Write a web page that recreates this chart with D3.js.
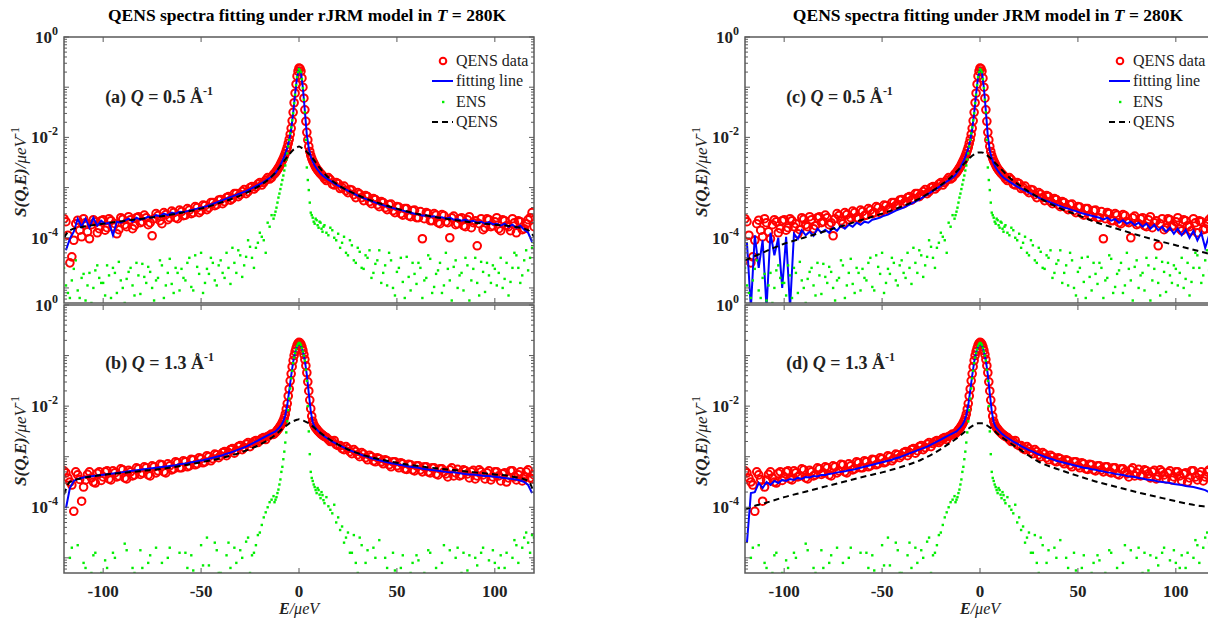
<!DOCTYPE html>
<html>
<head>
<meta charset="utf-8">
<script src="https://cdn.jsdelivr.net/npm/d3@7"></script>
<style>
  body { margin: 0; background: #fff; }
  text { font-family: "Liberation Serif", "Times New Roman", serif; }
</style>
</head>
<body>
<div id="chart"></div>
<script>
// all S(Q,E) values below are log10 of S in ueV^-1

// energy bins (ueV), first set: data, fit and ENS
var energy = [
  -119,-117,-115,-113,-111,-109,-107,-105,-103,-101,
  -99,-97,-95,-93,-91,-89,-87,-85,-83,-81,
  -79,-77,-75,-73,-71,-69,-67,-65,-63,-61,
  -59,-57,-55,-53,-51,-49,-47,-45,-43,-41,
  -39,-37,-35,-33,-31,-29,-27,-25,-23,-21,
  -19,-17,-15,-13,
  -12,-11,-10,-9,-8,-7,-6,-5,-4,-3,-2,-1,0,1,2,3,4,5,6,7,8,9,10,11,12,
  13,15,17,19,
  21,23,25,27,29,31,33,35,37,39,
  41,43,45,47,49,51,53,55,57,59,
  61,63,65,67,69,71,73,75,77,79,
  81,83,85,87,89,91,93,95,97,99,
  101,103,105,107,109,111,113,115,117,119]

// second set of bins (in between the first), data and ENS only
var energy2 = [
  -120,-118,-116,-114,-112,-110,-108,-106,-104,-102,
  -100,-98,-96,-94,-92,-90,-88,-86,-84,-82,
  -80,-78,-76,-74,-72,-70,-68,-66,-64,-62,
  -60,-58,-56,-54,-52,-50,-48,-46,-44,-42,
  -40,-38,-36,-34,-32,-30,-28,-26,-24,-22,
  -20,-18,-16,-14,
  -12.5,-11.5,-10.5,-9.5,-8.5,-7.5,-6.5,-5.5,-4.5,-3.5,-2.5,-1.5,-0.5,
  0.5,1.5,2.5,3.5,4.5,5.5,6.5,7.5,8.5,9.5,10.5,11.5,12.5,
  14,16,18,20,
  22,24,26,28,30,32,34,36,38,40,
  42,44,46,48,50,52,54,56,58,60,
  62,64,66,68,70,72,74,76,78,80,
  82,84,86,88,90,92,94,96,98,100,
  102,104,106,108,110,112,114,116,118,120]

// measured QENS spectra (same data in both models)
var dataQ05 = [
  -3.68,-4.5,-4.05,-3.65,-3.98,-3.7,-4.02,-3.64,-3.9,-3.66,
  -3.85,-3.62,-3.78,-3.92,-3.6,-3.74,-3.58,-3.82,-3.6,-3.7,
  -3.55,-3.74,-3.96,-3.52,-3.66,-3.5,-3.64,-3.47,-3.6,-3.45,
  -3.56,-3.42,-3.52,-3.38,-3.5,-3.35,-3.44,-3.3,-3.36,-3.25,
  -3.32,-3.2,-3.25,-3.12,-3.18,-3.08,-3.12,-3.0,-3.03,-2.93,
  -2.95,-2.85,-2.83,-2.74,
  -2.7,-2.64,-2.58,-2.5,-2.42,-2.32,-2.2,-2.04,-1.82,-1.5,-1.12,-0.78,-0.62,-0.68,-1.0,-1.45,-1.9,-2.18,-2.36,-2.47,-2.55,-2.62,-2.67,-2.72,-2.76,
  -2.82,-2.8,-2.93,-2.9,
  -3.02,-2.97,-3.1,-3.05,-3.2,-3.13,-3.26,-3.18,-3.32,-3.24,
  -3.38,-3.3,-3.44,-3.33,-3.5,-3.39,-3.55,-3.42,-3.58,-3.45,
  -3.6,-4.02,-3.5,-3.66,-3.52,-3.7,-3.54,-3.68,-4.0,-3.57,
  -3.72,-3.6,-3.78,-3.58,-3.7,-4.16,-3.62,-3.8,-3.64,-3.76,
  -3.6,-3.86,-3.66,-3.78,-3.62,-3.9,-3.68,-3.82,-3.64,-3.5]

var dataQ05b = [
  -3.62,-3.95,-4.38,-3.72,-3.85,-3.62,-3.88,-3.74,-3.68,-3.82,
  -3.64,-3.8,-3.66,-3.72,-3.84,-3.63,-3.78,-3.64,-3.76,-3.58,
  -3.68,-3.6,-3.7,-3.62,-3.56,-3.72,-3.54,-3.6,-3.5,-3.62,
  -3.48,-3.55,-3.45,-3.5,-3.4,-3.46,-3.36,-3.4,-3.3,-3.34,
  -3.24,-3.28,-3.18,-3.22,-3.12,-3.14,-3.04,-3.08,-2.98,-2.99,
  -2.9,-2.9,-2.8,-2.8,
  -2.72,-2.67,-2.61,-2.54,-2.46,-2.37,-2.26,-2.12,-1.94,-1.67,-1.31,-0.94,-0.68,
  -0.63,-0.82,-1.22,-1.68,-2.05,-2.28,-2.42,-2.51,-2.59,-2.65,-2.7,-2.74,-2.78,
  -2.86,-2.84,-2.95,-2.92,
  -3.0,-3.06,-3.04,-3.14,-3.1,-3.2,-3.16,-3.28,-3.22,-3.34,
  -3.28,-3.4,-3.34,-3.46,-3.38,-3.52,-3.42,-3.56,-3.46,-3.6,
  -3.48,-3.62,-3.52,-3.66,-3.55,-3.72,-3.56,-3.7,-3.6,-3.74,
  -3.62,-3.76,-3.64,-3.8,-3.66,-3.72,-3.84,-3.62,-3.78,-3.68,
  -3.82,-3.64,-3.76,-3.86,-3.7,-3.66,-3.84,-3.72,-3.6,-3.78]

var dataQ13 = [
  -3.32,-3.5,-4.08,-3.36,-3.88,-3.46,-3.3,-3.5,-3.33,-3.47,
  -3.3,-3.44,-3.28,-3.4,-3.24,-3.42,-3.27,-3.38,-3.22,-3.35,
  -3.2,-3.36,-3.18,-3.32,-3.15,-3.3,-3.14,-3.26,-3.1,-3.22,
  -3.08,-3.2,-3.05,-3.16,-3.02,-3.12,-2.98,-3.08,-2.95,-3.02,
  -2.92,-2.98,-2.86,-2.93,-2.8,-2.86,-2.75,-2.8,-2.7,-2.72,
  -2.64,-2.66,-2.58,-2.56,
  -2.52,-2.47,-2.42,-2.36,-2.28,-2.16,-1.95,-1.66,-1.36,-1.1,-0.92,-0.8,-0.74,-0.78,-0.9,-1.08,-1.34,-1.7,-2.05,-2.3,-2.4,-2.45,-2.5,-2.54,-2.57,
  -2.6,-2.66,-2.7,-2.76,
  -2.78,-2.86,-2.84,-2.94,-2.9,-3.0,-2.95,-3.06,-3.0,-3.1,
  -3.04,-3.14,-3.08,-3.2,-3.1,-3.22,-3.14,-3.25,-3.16,-3.28,
  -3.18,-3.3,-3.2,-3.32,-3.22,-3.36,-3.24,-3.34,-3.26,-3.38,
  -3.25,-3.36,-3.28,-3.42,-3.27,-3.38,-3.3,-3.44,-3.28,-3.4,
  -3.3,-3.48,-3.32,-3.42,-3.28,-3.46,-3.3,-3.4,-3.26,-3.44]

var dataQ13b = [
  -3.28,-3.42,-3.56,-3.3,-3.45,-3.6,-3.35,-3.42,-3.52,-3.3,
  -3.4,-3.28,-3.46,-3.32,-3.38,-3.26,-3.44,-3.3,-3.36,-3.24,
  -3.32,-3.22,-3.38,-3.2,-3.28,-3.16,-3.32,-3.18,-3.24,-3.12,
  -3.22,-3.1,-3.18,-3.06,-3.14,-3.04,-3.1,-3.0,-3.04,-2.96,
  -2.98,-2.9,-2.92,-2.84,-2.88,-2.78,-2.82,-2.72,-2.74,-2.68,
  -2.68,-2.62,-2.6,-2.55,
  -2.54,-2.5,-2.45,-2.39,-2.32,-2.23,-2.06,-1.8,-1.5,-1.22,-1.0,-0.86,-0.76,
  -0.75,-0.83,-0.98,-1.2,-1.52,-1.88,-2.2,-2.36,-2.43,-2.48,-2.52,-2.56,-2.59,
  -2.62,-2.7,-2.68,-2.78,
  -2.84,-2.8,-2.9,-2.86,-2.96,-2.92,-3.02,-2.97,-3.08,-3.02,
  -3.1,-3.06,-3.16,-3.1,-3.18,-3.12,-3.24,-3.15,-3.26,-3.18,
  -3.26,-3.2,-3.3,-3.22,-3.34,-3.24,-3.3,-3.4,-3.22,-3.32,
  -3.38,-3.26,-3.34,-3.3,-3.44,-3.26,-3.36,-3.32,-3.46,-3.3,
  -3.38,-3.34,-3.5,-3.28,-3.4,-3.36,-3.48,-3.3,-3.42,-3.36]

// elastic (ENS) component
var ensQ05 = [
  -4.95,-5.2,-4.62,-5.05,-4.8,-5.25,-4.7,-5.0,-4.55,-4.9,
  -5.15,-4.75,-4.6,-5.1,-4.85,-5.3,-4.68,-4.95,-4.5,-5.12,
  -4.78,-4.58,-5.0,-4.85,-4.45,-5.2,-4.7,-4.92,-4.6,-5.05,
  -4.8,-4.5,-4.98,-4.35,-4.72,-5.1,-4.62,-4.4,-4.85,-4.55,
  -4.7,-4.3,-4.92,-4.5,-4.25,-4.78,-4.38,-4.18,-4.6,-4.1,
  -3.98,-4.3,-3.78,-3.62,
  -3.48,-3.3,-3.12,-2.94,-2.76,-2.56,-2.32,-2.05,-1.8,-1.52,-1.15,-0.8,-0.64,-0.7,-1.02,-1.5,-2.6,-3.05,-3.5,-3.6,-3.72,-3.65,-3.8,-3.7,-3.88,
  -3.75,-3.95,-3.85,-4.05,
  -4.2,-3.98,-4.35,-4.15,-4.5,-4.28,-4.62,-4.4,-4.8,-4.52,
  -4.25,-4.7,-4.95,-4.45,-5.15,-4.6,-4.88,-4.38,-5.05,-4.72,
  -4.5,-5.2,-4.8,-4.42,-4.98,-4.65,-5.1,-4.3,-4.85,-4.58,
  -5.0,-4.7,-4.4,-5.25,-4.62,-4.9,-4.48,-5.08,-4.75,-4.55,
  -4.95,-4.4,-4.82,-5.15,-4.6,-4.35,-4.9,-4.45,-4.65,-4.2]

var ensQ05b = [
  -4.6,-5.1,-4.85,-4.45,-5.2,-4.72,-4.95,-5.3,-4.65,-4.8,
  -4.9,-4.55,-5.2,-4.7,-4.48,-5.0,-4.82,-4.6,-5.15,-4.75,
  -4.52,-4.9,-4.68,-5.25,-4.8,-4.55,-4.95,-4.42,-5.1,-4.7,
  -4.62,-4.85,-4.4,-5.05,-4.58,-4.3,-4.9,-4.72,-4.5,-4.95,
  -4.45,-4.8,-4.6,-4.2,-4.7,-4.35,-4.55,-4.05,-4.4,-4.2,
  -3.9,-4.05,-3.7,-3.55,
  -3.55,-3.4,-3.2,-3.03,-2.85,-2.66,-2.44,-2.18,-1.92,-1.66,-1.32,-0.96,-0.7,
  -0.66,-0.84,-1.25,-2.05,-2.85,-3.3,-3.55,-3.68,-3.62,-3.75,-3.68,-3.82,-3.78,
  -3.9,-3.8,-4.0,-3.92,
  -4.1,-4.3,-4.05,-4.45,-4.2,-4.6,-4.35,-4.25,-4.7,-4.45,
  -4.9,-4.55,-4.3,-5.0,-4.68,-4.4,-5.2,-4.78,-4.5,-4.92,
  -4.6,-4.85,-4.35,-5.1,-4.72,-4.5,-4.95,-4.62,-5.25,-4.45,
  -4.75,-5.05,-4.55,-4.85,-4.4,-5.15,-4.68,-4.5,-4.9,-4.62,
  -4.7,-5.0,-4.5,-4.88,-4.3,-4.6,-4.75,-4.25,-4.4,-4.1]

var ensQ13 = [
  -5.6,-5.0,-5.7,-4.75,-5.45,-5.2,-5.8,-4.95,-5.5,-5.3,
  -5.05,-5.6,-4.9,-5.4,-5.7,-4.72,-5.5,-5.2,-5.65,-4.85,
  -5.5,-5.1,-5.75,-4.8,-5.4,-5.6,-5.0,-5.45,-5.7,-4.9,
  -5.55,-5.2,-4.95,-5.7,-5.4,-5.15,-4.6,-5.5,-4.7,-5.3,
  -5.6,-4.95,-5.2,-4.8,-5.45,-5.0,-4.68,-5.3,-4.9,-4.55,
  -4.35,-4.1,-3.9,-3.78,
  -3.85,-3.72,-3.55,-3.3,-3.05,-2.72,-2.3,-1.85,-1.45,-1.15,-0.95,-0.81,-0.75,-0.79,-0.92,-1.1,-1.5,-2.5,-3.3,-3.48,-3.6,-3.72,-3.66,-3.82,-3.76,
  -3.92,-3.98,-4.12,-4.3,
  -4.45,-4.7,-4.5,-4.9,-5.1,-4.6,-5.4,-4.85,-5.6,-5.0,
  -4.65,-5.5,-5.2,-5.7,-5.25,-5.55,-4.95,-5.6,-5.3,-5.7,
  -5.05,-5.45,-5.75,-4.9,-5.4,-5.6,-5.1,-5.5,-4.85,-5.65,
  -4.8,-5.3,-5.7,-4.95,-5.45,-5.15,-4.9,-5.6,-5.05,-4.85,
  -5.5,-4.95,-5.2,-5.65,-5.0,-4.75,-5.35,-4.6,-4.7,-4.55]

var ensQ13b = [
  -5.4,-5.7,-4.8,-5.5,-5.6,-5.1,-5.75,-5.3,-4.9,-5.6,
  -5.5,-5.2,-5.7,-5.0,-5.45,-5.65,-4.85,-5.55,-5.3,-5.7,
  -5.2,-5.6,-4.95,-5.5,-5.7,-5.1,-5.4,-4.8,-5.6,-5.35,
  -5.7,-4.9,-5.45,-5.25,-5.6,-4.75,-5.5,-5.15,-5.65,-4.85,
  -5.3,-5.55,-4.7,-5.4,-5.1,-4.85,-5.5,-4.6,-4.95,-4.75,
  -4.5,-4.2,-4.0,-3.85,
  -3.9,-3.8,-3.65,-3.45,-3.2,-2.9,-2.52,-2.08,-1.65,-1.3,-1.04,-0.88,-0.77,
  -0.76,-0.85,-1.0,-1.28,-2.0,-2.95,-3.42,-3.55,-3.66,-3.62,-3.75,-3.7,-3.86,
  -3.8,-4.05,-3.95,-4.2,
  -4.38,-4.6,-4.9,-4.55,-5.3,-4.75,-5.1,-5.6,-4.8,-5.4,
  -5.7,-5.0,-5.5,-4.9,-5.65,-5.2,-5.45,-5.75,-5.1,-4.95,
  -5.6,-5.3,-4.85,-5.7,-5.2,-5.5,-4.75,-5.4,-5.65,-5.0,
  -5.55,-4.9,-5.25,-5.7,-5.0,-5.45,-4.8,-5.35,-5.6,-5.1,
  -5.2,-5.6,-4.9,-5.4,-4.65,-5.1,-4.8,-4.5,-4.9,-4.6]

// fitting lines: (a) rJRM Q=0.5, (b) rJRM Q=1.3, (c) JRM Q=0.5, (d) JRM Q=1.3
var fitA = [
  -4.25,-4.02,-3.88,-3.62,-3.78,-3.62,-3.8,-3.6,-3.76,-3.66,
  -3.72,-3.7,-3.95,-3.68,-3.7,-3.66,-3.62,-3.68,-3.6,-3.64,
  -3.62,-3.58,-3.6,-3.55,-3.57,-3.52,-3.55,-3.5,-3.52,-3.48,
  -3.49,-3.47,-3.45,-3.43,-3.41,-3.39,-3.37,-3.34,-3.31,-3.28,
  -3.25,-3.22,-3.19,-3.16,-3.13,-3.1,-3.07,-3.03,-2.99,-2.95,
  -2.91,-2.86,-2.81,-2.75,
  -2.71,-2.65,-2.59,-2.51,-2.43,-2.33,-2.21,-2.05,-1.84,-1.52,-1.14,-0.8,-0.64,-0.7,-1.02,-1.48,-1.95,-2.22,-2.38,-2.48,-2.56,-2.62,-2.67,-2.72,-2.76,
  -2.79,-2.84,-2.89,-2.94,
  -2.98,-3.02,-3.06,-3.1,-3.14,-3.18,-3.21,-3.24,-3.27,-3.3,
  -3.33,-3.35,-3.38,-3.4,-3.42,-3.44,-3.46,-3.48,-3.5,-3.52,
  -3.53,-3.56,-3.55,-3.58,-3.57,-3.6,-3.59,-3.62,-3.6,-3.64,
  -3.63,-3.66,-3.64,-3.68,-3.66,-3.7,-3.68,-3.72,-3.69,-3.73,
  -3.72,-3.76,-3.72,-3.78,-3.74,-3.8,-3.76,-3.84,-3.9,-4.08]

var fitB = [
  -4.02,-3.62,-3.48,-3.44,-3.42,-3.4,-3.39,-3.38,-3.37,-3.36,
  -3.35,-3.34,-3.33,-3.32,-3.31,-3.3,-3.29,-3.28,-3.27,-3.26,
  -3.25,-3.24,-3.23,-3.22,-3.21,-3.2,-3.19,-3.18,-3.17,-3.15,
  -3.14,-3.13,-3.11,-3.1,-3.08,-3.07,-3.05,-3.03,-3.01,-2.99,
  -2.97,-2.94,-2.92,-2.89,-2.86,-2.83,-2.8,-2.76,-2.72,-2.68,
  -2.64,-2.6,-2.56,-2.52,
  -2.5,-2.46,-2.42,-2.37,-2.3,-2.18,-1.98,-1.7,-1.4,-1.13,-0.94,-0.82,-0.76,-0.8,-0.92,-1.1,-1.38,-1.75,-2.1,-2.32,-2.41,-2.46,-2.5,-2.54,-2.57,
  -2.6,-2.65,-2.7,-2.74,
  -2.78,-2.82,-2.86,-2.89,-2.92,-2.95,-2.98,-3.0,-3.03,-3.05,
  -3.07,-3.09,-3.11,-3.13,-3.14,-3.16,-3.17,-3.19,-3.2,-3.21,
  -3.22,-3.24,-3.25,-3.26,-3.27,-3.28,-3.29,-3.3,-3.31,-3.31,
  -3.32,-3.33,-3.34,-3.35,-3.35,-3.36,-3.37,-3.38,-3.38,-3.39,
  -3.4,-3.41,-3.42,-3.43,-3.44,-3.45,-3.47,-3.5,-3.56,-3.72]

var fitC = [
  -4.1,-5.4,-3.95,-4.6,-4.05,-5.4,-3.9,-4.35,-4.0,-5.0,
  -3.98,-5.4,-3.92,-4.02,-3.85,-3.95,-3.88,-3.96,-3.82,-3.9,
  -3.84,-3.9,-3.8,-3.86,-3.76,-3.82,-3.74,-3.78,-3.7,-3.74,
  -3.68,-3.7,-3.64,-3.62,-3.6,-3.56,-3.54,-3.5,-3.46,-3.43,
  -3.4,-3.36,-3.32,-3.28,-3.24,-3.19,-3.14,-3.09,-3.04,-2.99,
  -2.94,-2.88,-2.83,-2.77,
  -2.72,-2.66,-2.6,-2.52,-2.44,-2.34,-2.22,-2.06,-1.84,-1.52,-1.14,-0.8,-0.64,-0.7,-1.02,-1.48,-1.98,-2.26,-2.42,-2.52,-2.6,-2.66,-2.71,-2.76,-2.8,
  -2.83,-2.88,-2.93,-2.98,
  -3.02,-3.06,-3.1,-3.14,-3.18,-3.22,-3.25,-3.28,-3.31,-3.34,
  -3.37,-3.4,-3.42,-3.45,-3.47,-3.5,-3.52,-3.54,-3.56,-3.58,
  -3.6,-3.64,-3.6,-3.66,-3.63,-3.7,-3.65,-3.72,-3.68,-3.75,
  -3.7,-3.78,-3.72,-3.82,-3.74,-3.85,-3.78,-3.88,-3.8,-3.92,
  -3.82,-3.95,-3.84,-4.0,-3.86,-4.05,-3.9,-4.2,-3.95,-4.25]

var fitD = [
  -4.7,-3.72,-3.7,-3.52,-3.62,-3.5,-3.56,-3.48,-3.52,-3.46,
  -3.48,-3.44,-3.46,-3.42,-3.44,-3.4,-3.41,-3.38,-3.39,-3.36,
  -3.36,-3.34,-3.33,-3.31,-3.3,-3.29,-3.27,-3.26,-3.24,-3.22,
  -3.2,-3.18,-3.16,-3.14,-3.12,-3.1,-3.08,-3.06,-3.03,-3.01,
  -2.98,-2.95,-2.92,-2.89,-2.86,-2.83,-2.8,-2.76,-2.72,-2.68,
  -2.64,-2.6,-2.56,-2.52,
  -2.5,-2.46,-2.42,-2.37,-2.3,-2.18,-1.98,-1.7,-1.4,-1.13,-0.94,-0.82,-0.76,-0.8,-0.92,-1.1,-1.38,-1.75,-2.1,-2.32,-2.41,-2.46,-2.5,-2.54,-2.57,
  -2.6,-2.65,-2.7,-2.74,
  -2.79,-2.83,-2.87,-2.9,-2.94,-2.97,-3.0,-3.03,-3.05,-3.08,
  -3.1,-3.12,-3.14,-3.16,-3.18,-3.2,-3.22,-3.23,-3.25,-3.26,
  -3.28,-3.29,-3.31,-3.32,-3.34,-3.35,-3.36,-3.38,-3.39,-3.4,
  -3.42,-3.43,-3.45,-3.46,-3.47,-3.49,-3.5,-3.51,-3.52,-3.54,
  -3.55,-3.56,-3.58,-3.59,-3.6,-3.62,-3.64,-3.66,-3.7,-3.8]

// quasi-elastic component (dashed), on its own coarse grid
var qensE = [-120,-117,-110,-100,-90,-80,-70,-60,-50,-40,-30,-20,-15,-10,-7,-5,-3,-1,0,1,3,5,7,10,15,20,30,40,50,60,70,80,90,100,110,117,120]
var qensA = [-4.0,-3.85,-3.78,-3.72,-3.67,-3.62,-3.57,-3.5,-3.42,-3.3,-3.16,-2.96,-2.82,-2.6,-2.44,-2.34,-2.25,-2.2,-2.18,-2.2,-2.25,-2.33,-2.42,-2.58,-2.8,-2.95,-3.15,-3.3,-3.42,-3.52,-3.59,-3.65,-3.7,-3.74,-3.78,-3.85,-3.98]
var qensB = [-3.75,-3.5,-3.42,-3.36,-3.32,-3.28,-3.24,-3.18,-3.11,-3.03,-2.92,-2.76,-2.65,-2.5,-2.4,-2.34,-2.3,-2.27,-2.26,-2.27,-2.3,-2.34,-2.4,-2.5,-2.64,-2.76,-2.93,-3.04,-3.12,-3.18,-3.23,-3.27,-3.31,-3.35,-3.4,-3.48,-3.72]
var qensC = [-4.45,-4.4,-4.28,-4.12,-4.0,-3.88,-3.76,-3.64,-3.52,-3.38,-3.2,-2.95,-2.8,-2.6,-2.48,-2.4,-2.34,-2.3,-2.3,-2.3,-2.34,-2.4,-2.48,-2.6,-2.8,-2.95,-3.2,-3.4,-3.55,-3.7,-3.82,-3.94,-4.05,-4.15,-4.25,-4.32,-4.36]
var qensD = [-4.05,-4.0,-3.92,-3.8,-3.7,-3.6,-3.5,-3.4,-3.31,-3.2,-3.06,-2.85,-2.72,-2.58,-2.48,-2.42,-2.37,-2.34,-2.34,-2.34,-2.37,-2.42,-2.48,-2.58,-2.72,-2.85,-3.1,-3.25,-3.38,-3.5,-3.6,-3.7,-3.79,-3.88,-3.96,-4.0,-4.03]

var xTicks = [-100, -50, 0, 50, 100]
var yLabelExp = [0, -2, -4]
var models = ['rJRM', 'JRM']
var legendItems = ['QENS data', 'fitting line', 'ENS', 'QENS']

var W = 1208, H = 619
var axisColor = '#5a5a5a'

var svg = d3.select('#chart').append('svg').attr('width', W).attr('height', H)

var columns = [
  { left: 64, model: models[0], titleX: 307, legendX: 432,
    panels: [
      { tag: '(a)', q: '0.5', top: 37, bottom: 303, data: [dataQ05, dataQ05b], ens: [ensQ05, ensQ05b], fit: fitA, qens: qensA },
      { tag: '(b)', q: '1.3', top: 305, bottom: 573, data: [dataQ13, dataQ13b], ens: [ensQ13, ensQ13b], fit: fitB, qens: qensB }
    ] },
  { left: 745, model: models[1], titleX: 988, legendX: 1109,
    panels: [
      { tag: '(c)', q: '0.5', top: 37, bottom: 303, data: [dataQ05, dataQ05b], ens: [ensQ05, ensQ05b], fit: fitC, qens: qensC },
      { tag: '(d)', q: '1.3', top: 305, bottom: 573, data: [dataQ13, dataQ13b], ens: [ensQ13, ensQ13b], fit: fitD, qens: qensD }
    ] }
]

columns.forEach(function (col, ci) {
  var width = 470

  var title = svg.append('text')
    .attr('x', col.titleX).attr('y', 21)
    .attr('text-anchor', 'middle')
    .attr('font-size', 17.5).attr('font-weight', 'bold')
  title.append('tspan').text('QENS spectra fitting under ' + col.model + ' model in ')
  title.append('tspan').attr('font-style', 'italic').text('T')
  title.append('tspan').text(' = 280K')

  col.panels.forEach(function (p, pi) {
    var x = d3.scaleLinear().domain([-120, 120]).range([col.left, col.left + width])
    var y = d3.scaleLog().domain([Math.pow(10, -5.3), 1]).range([p.bottom, p.top])
    var val = function (lg) { return y(Math.pow(10, lg)) }

    var clipId = 'clip' + ci + pi
    svg.append('clipPath').attr('id', clipId)
      .append('rect')
      .attr('x', col.left).attr('y', p.top)
      .attr('width', width).attr('height', p.bottom - p.top)

    var g = svg.append('g').attr('clip-path', 'url(#' + clipId + ')')

    var pts = d3.zip(energy, p.data[0]).concat(d3.zip(energy2, p.data[1]))
    g.selectAll('circle.data').data(pts)
      .enter().append('circle')
      .attr('class', 'data')
      .attr('cx', function (d) { return x(d[0]) })
      .attr('cy', function (d) { return val(d[1]) })
      .attr('r', 3.8)
      .attr('fill', 'none')
      .attr('stroke', '#ff0000')
      .attr('stroke-width', 2)

    var line = d3.line()
      .x(function (d) { return x(d[0]) })
      .y(function (d) { return val(d[1]) })

    g.append('path')
      .datum(d3.zip(energy, p.fit))
      .attr('d', line)
      .attr('fill', 'none')
      .attr('stroke', '#0000ff')
      .attr('stroke-width', 2)

    var ensPts = d3.zip(energy, p.ens[0]).concat(d3.zip(energy2, p.ens[1]))
    g.selectAll('rect.ens').data(ensPts)
      .enter().append('rect')
      .attr('class', 'ens')
      .attr('x', function (d) { return x(d[0]) - 1.2 })
      .attr('y', function (d) { return val(d[1]) - 1.2 })
      .attr('width', 2.4).attr('height', 2.4)
      .attr('fill', '#00ee00')

    g.append('path')
      .datum(d3.zip(qensE, p.qens))
      .attr('d', line.curve(d3.curveMonotoneX))
      .attr('fill', 'none')
      .attr('stroke', '#000')
      .attr('stroke-width', 2)
      .attr('stroke-dasharray', '6,4')

    // axes box and ticks
    var ax = svg.append('g').attr('stroke', axisColor).attr('fill', 'none')
    ax.append('rect')
      .attr('x', col.left).attr('y', p.top)
      .attr('width', width).attr('height', p.bottom - p.top)
      .attr('stroke-width', 1.5)

    xTicks.forEach(function (t) {
      ax.append('line').attr('x1', x(t)).attr('x2', x(t)).attr('y1', p.bottom).attr('y2', p.bottom - 5)
      ax.append('line').attr('x1', x(t)).attr('x2', x(t)).attr('y1', p.top).attr('y2', p.top + 5)
    })

    for (var k = -6; k <= 0; k++) {
      for (var m = 1; m <= 9; m++) {
        var v = m * Math.pow(10, k)
        if (v < Math.pow(10, -5.3) || v > 1) continue
        var len = m === 1 ? 5 : 3
        ax.append('line').attr('x1', col.left).attr('x2', col.left + len).attr('y1', y(v)).attr('y2', y(v)).attr('stroke-width', 1)
        ax.append('line').attr('x1', col.left + width).attr('x2', col.left + width - len).attr('y1', y(v)).attr('y2', y(v)).attr('stroke-width', 1)
      }
    }

    yLabelExp.forEach(function (e) {
      var t = svg.append('text')
        .attr('x', col.left - 6).attr('y', y(Math.pow(10, e)) + 6)
        .attr('text-anchor', 'end')
        .attr('font-size', 17).attr('font-weight', 'bold')
        .attr('fill', '#222')
      t.append('tspan').text('10')
      t.append('tspan').attr('dy', -8).attr('font-size', 12).text(String(e))
    })

    if (pi === 1) {
      xTicks.forEach(function (t) {
        svg.append('text')
          .attr('x', x(t)).attr('y', p.bottom + 24)
          .attr('text-anchor', 'middle')
          .attr('font-size', 17).attr('font-weight', 'bold')
          .attr('fill', '#222')
          .text(t)
      })
      var xl = svg.append('text')
        .attr('x', x(0)).attr('y', p.bottom + 41)
        .attr('text-anchor', 'middle')
        .attr('font-size', 16).attr('fill', '#222')
      xl.append('tspan').attr('font-style', 'italic').attr('font-weight', 'bold').text('E')
      xl.append('tspan').attr('font-style', 'italic').text('/\u03bceV')
    }

    // y label
    var cy = (p.top + p.bottom) / 2 + 2
    var yl = svg.append('text')
      .attr('transform', 'translate(' + (col.left - 38) + ',' + cy + ') rotate(-90)')
      .attr('text-anchor', 'middle')
      .attr('font-size', 17).attr('fill', '#222')
    yl.append('tspan').attr('font-style', 'italic').attr('font-weight', 'bold').text('S(Q,E)')
    yl.append('tspan').attr('font-style', 'italic').text('/\u03bceV')
    yl.append('tspan').attr('dy', -7).attr('font-size', 12).text('-1')

    // panel tag
    var tag = svg.append('text')
      .attr('x', x(-99)).attr('y', p.top + (pi === 0 ? 66 : 64))
      .attr('font-size', 18).attr('font-weight', 'bold').attr('fill', '#222')
    tag.append('tspan').text(p.tag + ' ')
    tag.append('tspan').attr('font-style', 'italic').text('Q')
    tag.append('tspan').text(' = ' + p.q + ' \u00c5')
    tag.append('tspan').attr('dy', -8).attr('font-size', 12).text('-1')

    // legend on the upper panel
    if (pi === 0) {
      var lx = col.legendX
      var rows = [p.top + 24, p.top + 44, p.top + 65, p.top + 85]
      var lg = svg.append('g')
      lg.append('circle').attr('cx', lx + 11).attr('cy', rows[0]).attr('r', 3.3)
        .attr('fill', 'none').attr('stroke', '#ff0000').attr('stroke-width', 2)
      lg.append('line').attr('x1', lx).attr('x2', lx + 21).attr('y1', rows[1]).attr('y2', rows[1])
        .attr('stroke', '#0000ff').attr('stroke-width', 2)
      lg.append('rect').attr('x', lx + 10).attr('y', rows[2] - 1.2).attr('width', 2.4).attr('height', 2.4)
        .attr('fill', '#00ee00')
      lg.append('line').attr('x1', lx).attr('x2', lx + 21).attr('y1', rows[3]).attr('y2', rows[3])
        .attr('stroke', '#000').attr('stroke-width', 2).attr('stroke-dasharray', '6,4')
      legendItems.forEach(function (s, i) {
        lg.append('text').attr('x', lx + 24).attr('y', rows[i] + 5)
          .attr('font-size', 16).attr('fill', '#222').text(s)
      })
    }
  })
})
</script>
</body>
</html>
